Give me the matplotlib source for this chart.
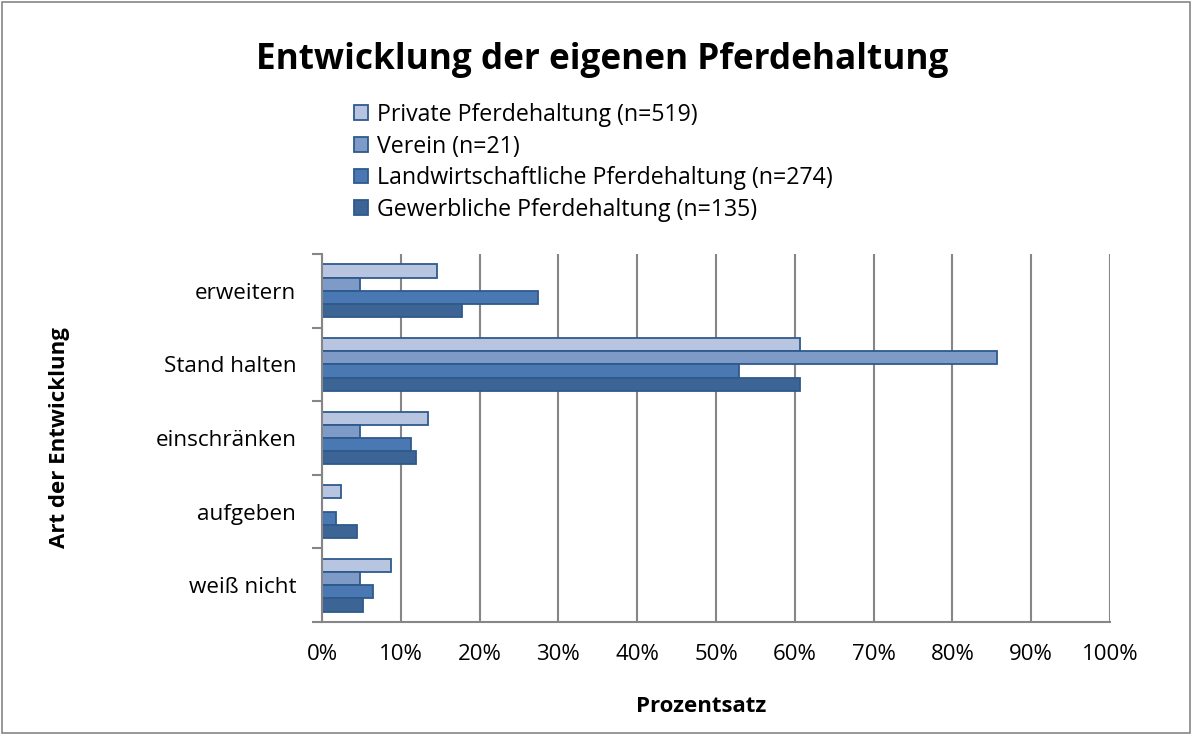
import matplotlib.pyplot as plt
import numpy as np
from matplotlib.patches import Rectangle
from matplotlib.ticker import FuncFormatter

plt.rcParams['font.family'] = ['Open Sans', 'DejaVu Sans']

categories = ['erweitern', 'Stand halten', 'einschränken', 'aufgeben', 'weiß nicht']
series = ['Private Pferdehaltung (n=519)', 'Verein (n=21)',
          'Landwirtschaftliche Pferdehaltung (n=274)', 'Gewerbliche Pferdehaltung (n=135)']
private = [14.6, 60.7, 13.5, 2.4, 8.7]
verein = [4.76, 85.7, 4.76, 0.0, 4.76]
landw = [27.4, 52.9, 11.3, 1.8, 6.5]
gewerb = [17.8, 60.7, 11.9, 4.4, 5.2]
values = [private, verein, landw, gewerb]
colors = ['#B7C5E0', '#7E9BC8', '#4A78B2', '#3C6494']

fig = plt.figure(figsize=(11.92, 7.35), dpi=100)
ax = fig.add_axes([322 / 1192, 1 - 622 / 735, (1110 - 322) / 1192, (622 - 254) / 735])

n = len(categories)
y = np.arange(n)[::-1].astype(float)
h = 0.18
for i, (vals, col) in enumerate(zip(values, colors)):
    offs = (1.5 - i) * h
    ax.barh(y + offs, vals, height=h, color=col, edgecolor='#2F5A8C', linewidth=1.3,
            label=series[i], zorder=3)

ax.set_xlim(0, 100)
ax.set_ylim(-0.5, n - 0.5)
ax.set_xticks(np.arange(0, 101, 10))
ax.xaxis.set_major_formatter(FuncFormatter(lambda v, p: f'{int(v)}%'))
ax.set_yticks(y)
ax.set_yticklabels(categories)
ax.set_yticks(np.arange(-0.5, n, 1.0), minor=True)
ax.tick_params(axis='y', which='major', length=0, pad=18.5, labelsize=16.2)
ax.tick_params(axis='y', which='minor', length=7, width=1.5, color='#868686')
ax.tick_params(axis='x', length=0, pad=16, labelsize=16)
ax.grid(axis='x', color='#868686', linewidth=1.5, zorder=0)
for s in ['top', 'right']:
    ax.spines[s].set_visible(False)
for s in ['left', 'bottom']:
    ax.spines[s].set_color('#868686')
    ax.spines[s].set_linewidth(1.5)
ax.spines['left'].set_zorder(4)

fig.text(701 / 1192, 1 - 706 / 735, 'Prozentsatz', fontsize=16, fontweight='bold',
         ha='center', va='center')
fig.text(60 / 1192, 1 - 438 / 735, 'Art der Entwicklung', rotation=90, fontsize=16,
         fontweight='bold', ha='center', va='center')

fig.text(602 / 1192, 1 - 60 / 735, 'Entwicklung der eigenen Pferdehaltung',
         fontsize=25.3, fontweight='bold', ha='center', va='center')

fig.legend(loc='upper left', bbox_to_anchor=(354 / 1192, 1 - 103 / 735), frameon=False,
           fontsize=16.7, handlelength=0.6, handleheight=0.6, handletextpad=0.4,
           labelspacing=0.33, borderaxespad=0, borderpad=0)

fig.patches.append(Rectangle((0.002, 0.003), 0.996, 0.994, transform=fig.transFigure,
                             fill=False, edgecolor='#868686', linewidth=1.2))

fig.savefig('out.png', dpi=100)
